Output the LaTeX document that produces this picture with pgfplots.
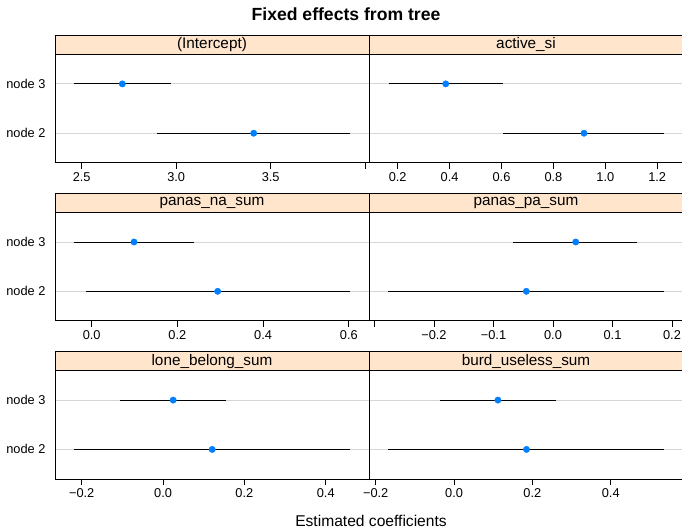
\documentclass[border=0pt]{standalone}
\usepackage{fontspec}
\setmainfont{Liberation Sans}
\usepackage{pgfplots}
\pgfplotsset{compat=1.18}
\definecolor{stripc}{HTML}{FFE5CC}
\definecolor{dotc}{HTML}{0080FF}
\newcommand\ticksize{\fontsize{12.8}{15}\selectfont}
\newcommand\stripsize{\fontsize{15.3}{18}\selectfont}

\pgfplotsset{
  panel/.style={
    scale only axis, width=314pt, height=108.5pt, anchor=south west,
    ymin=0.4, ymax=2.6, ytick={1,2},
    ymajorgrids, major grid style={gray!32, line width=0.8pt},
    ytick style={draw=none},
    xtick pos=left, tick align=outside, major tick length=6pt,
    xtick style={black, line width=0.6pt},
    axis line style={black, line width=0.8pt},
    tick label style={font=\ticksize},
    clip=false,
  },
  leftcol/.style={panel, yticklabels={node 2,node 3}},
  rightcol/.style={panel, yticklabels={}},
  seg/.style={black, line width=0.9pt, no marks},
  dot/.style={only marks, mark=*, mark size=3.2pt, color=dotc},
}
\newcommand\strip[1]{%
  \draw[fill=stripc, draw=black, line width=0.8pt] (rel axis cs:0,1) rectangle ([yshift=18.8pt]rel axis cs:1,1);
  \node[font=\stripsize] at ([yshift=9.4pt]rel axis cs:0.5,1) {#1};}

\begin{document}
\begin{tikzpicture}[x=1pt,y=1pt]
\useasboundingbox (0,0) rectangle (682,530);

% row 1
\begin{axis}[leftcol, at={(55pt,367.2pt)}, xmin=2.3587, xmax=4.0201,
  xtick={2.5,3,3.5,4}, xticklabels={2.5,3.0,3.5,{}}]
\addplot[seg] coordinates {(2.459,2) (2.971,2)};
\addplot[seg] coordinates {(2.900,1) (3.920,1)};
\addplot[dot] coordinates {(2.715,2) (3.410,1)};
\strip{(Intercept)}
\end{axis}
\begin{axis}[rightcol, at={(369pt,367.2pt)}, xmin=0.0894, xmax=1.2994,
  xtick={0.2,0.4,0.6,0.8,1.0,1.2}, xticklabels={0.2,0.4,0.6,0.8,1.0,1.2}]
\addplot[seg] coordinates {(0.165,2) (0.607,2)};
\addplot[seg] coordinates {(0.607,1) (1.227,1)};
\addplot[dot] coordinates {(0.385,2) (0.918,1)};
\strip{active\_si}
\end{axis}

% row 2
\begin{axis}[leftcol, at={(55pt,209.1pt)}, xmin=-0.0856, xmax=0.6472,
  xtick={0,0.2,0.4,0.6}, xticklabels={0.0,0.2,0.4,0.6}]
\addplot[seg] coordinates {(-0.041,2) (0.239,2)};
\addplot[seg] coordinates {(-0.013,1) (0.603,1)};
\addplot[dot] coordinates {(0.0988,2) (0.294,1)};
\strip{panas\_na\_sum}
\end{axis}
\begin{axis}[rightcol, at={(369pt,209.1pt)}, xmin=-0.3092, xmax=0.2185,
  xtick={-0.3,-0.2,-0.1,0,0.1,0.2}, xticklabels={{},−0.2,−0.1,0.0,0.1,0.2}]
\addplot[seg] coordinates {(-0.0667,2) (0.1417,2)};
\addplot[seg] coordinates {(-0.2768,1) (0.1871,1)};
\addplot[dot] coordinates {(0.0382,2) (-0.0448,1)};
\strip{panas\_pa\_sum}
\end{axis}

% row 3
\begin{axis}[leftcol, at={(55pt,51pt)}, xmin=-0.2657, xmax=0.5064,
  xtick={-0.2,0,0.2,0.4}, xticklabels={−0.2,0.0,0.2,0.4}]
\addplot[seg] coordinates {(-0.106,2) (0.155,2)};
\addplot[seg] coordinates {(-0.219,1) (0.460,1)};
\addplot[dot] coordinates {(0.0248,2) (0.1208,1)};
\strip{lone\_belong\_sum}
\end{axis}
\begin{axis}[rightcol, at={(369pt,51pt)}, xmin=-0.2171, xmax=0.5845,
  xtick={-0.2,0,0.2,0.4}, xticklabels={−0.2,0.0,0.2,0.4}]
\addplot[seg] coordinates {(-0.036,2) (0.260,2)};
\addplot[seg] coordinates {(-0.168,1) (0.537,1)};
\addplot[dot] coordinates {(0.112,2) (0.185,1)};
\strip{burd\_useless\_sum}
\end{axis}

\node[anchor=base, font=\fontsize{17.6}{20}\selectfont\bfseries] at (346,509.3) {Fixed effects from tree};
\node[anchor=base, font=\fontsize{15.6}{18}\selectfont, inner sep=1pt] at (371,3.5) {Estimated coefficients};
\end{tikzpicture}
\end{document}
